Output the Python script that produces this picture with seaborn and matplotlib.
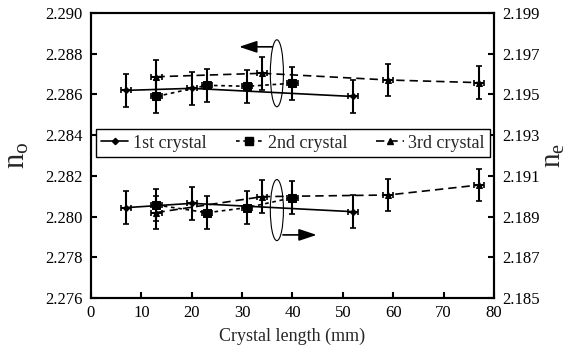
import matplotlib
matplotlib.use("Agg")
import matplotlib.pyplot as plt
from matplotlib.patches import Ellipse
from matplotlib.lines import Line2D
import seaborn as sns
import pandas as pd

# Crystal lengths (mm) and refractive indices for the three crystals
len_1st = [7, 20, 52]
no_1st = [2.2862, 2.2863, 2.2859]
ne_1st = [2.18944, 2.18965, 2.18924]

len_2nd = [13, 23, 31, 40]
no_2nd = [2.2859, 2.28645, 2.2864, 2.28655]
ne_2nd = [2.18957, 2.18919, 2.18944, 2.18993]

len_3rd = [13, 34, 59, 77]
no_3rd = [2.28687, 2.28704, 2.28671, 2.28658]
ne_3rd = [2.18920, 2.18998, 2.19006, 2.19055]

labels = ["1st crystal", "2nd crystal", "3rd crystal"]
index_err = 0.0008
length_err = 1.0

sns.set_style("ticks")
plt.rcParams["font.family"] = ["Liberation Serif", "DejaVu Serif"]
plt.rcParams["mathtext.fontset"] = "custom"
plt.rcParams["mathtext.rm"] = "Liberation Serif"
plt.rcParams["mathtext.it"] = "Liberation Serif:italic"

fig, ax = plt.subplots(figsize=(5.7, 3.52), dpi=100)
fig.subplots_adjust(left=0.1596, right=0.8667, top=0.963, bottom=0.1534)
ax2 = ax.twinx()

styles = [
    dict(marker="D", ms=3.2, ls="-", dashes=None),
    dict(marker="s", ms=6.0, ls="--", dashes=(2.2, 2.2)),
    dict(marker="^", ms=4.0, ls="--", dashes=(5, 3)),
]
series = [
    (len_1st, no_1st, ne_1st),
    (len_2nd, no_2nd, ne_2nd),
    (len_3rd, no_3rd, ne_3rd),
]

for (xs, no, ne), st, lab in zip(series, styles, labels):
    for axis, ys in ((ax, no), (ax2, ne)):
        df = pd.DataFrame({"length": xs, "n": ys})
        kw = dict(marker=st["marker"], markersize=st["ms"], color="black",
                  linewidth=1.2, markeredgecolor="black")
        if st["dashes"] is not None:
            kw["dashes"] = st["dashes"]
        sns.lineplot(data=df, x="length", y="n", ax=axis, sort=True,
                     legend=False, **kw)
        axis.errorbar(xs, ys, yerr=index_err, xerr=length_err, fmt="none",
                      ecolor="black", elinewidth=1.5, capsize=2.5,
                      capthick=1.2)

ax.set_xlim(0, 80)
ax.set_ylim(2.276, 2.290)
ax2.set_ylim(2.185, 2.199)
ax.set_xticks(range(0, 81, 10))
ax.set_yticks([2.276 + 0.002 * i for i in range(8)])
ax2.set_yticks([2.185 + 0.002 * i for i in range(8)])
ax.yaxis.set_major_formatter(matplotlib.ticker.FormatStrFormatter("%.3f"))
ax2.yaxis.set_major_formatter(matplotlib.ticker.FormatStrFormatter("%.3f"))

for a in (ax, ax2):
    for s in a.spines.values():
        s.set_linewidth(1.5)
        s.set_color("black")
    a.tick_params(direction="in", length=4, width=1.5, labelsize=12,
                  colors="black")
ax.tick_params(axis="x", pad=5)
ax.tick_params(axis="y", pad=6)
ax2.tick_params(axis="y", pad=6)

ax.set_xlabel("Crystal length (mm)", fontsize=13, labelpad=5)
ax.set_ylabel(r"$\mathrm{n_o}$", fontsize=22, labelpad=10)
ax2.set_ylabel(r"$\mathrm{n_e}$", fontsize=21, labelpad=0.5, rotation=90)

# ellipses grouping the two sets of curves, with arrows to their axes
ax.add_patch(Ellipse((36.9, 2.28704), 2.6, 0.00329, fill=False,
                     edgecolor="black", linewidth=0.8, zorder=5))
ax.add_patch(Ellipse((36.9, 2.28032), 2.6, 0.0030, fill=False,
                     edgecolor="black", linewidth=0.8, zorder=5))
arrow = dict(arrowstyle="-|>,head_length=0.9,head_width=0.3",
             color="black", linewidth=1.2, shrinkA=0, shrinkB=0,
             mutation_scale=12)
ax.annotate("", xy=(29.4, 2.28834), xytext=(36.0, 2.28834), arrowprops=arrow)
ax.annotate("", xy=(44.8, 2.2791), xytext=(38.1, 2.2791), arrowprops=arrow)

handles = [Line2D([], [], color="black", lw=1.2, marker=st["marker"],
                  ms=st["ms"], ls="-" if st["dashes"] is None else (0, st["dashes"]))
           for st in styles]
leg = ax2.legend(handles, labels, loc="lower left",
                 bbox_to_anchor=(0.012, 0.495, 0.978, 0.105), mode="expand",
                 ncol=3, borderaxespad=0, fancybox=False, framealpha=1,
                 edgecolor="black", fontsize=13, handlelength=1.5,
                 handletextpad=0.25, borderpad=0.3)
leg.get_frame().set_linewidth(1.0)

fig.savefig("out.png", dpi=100)
